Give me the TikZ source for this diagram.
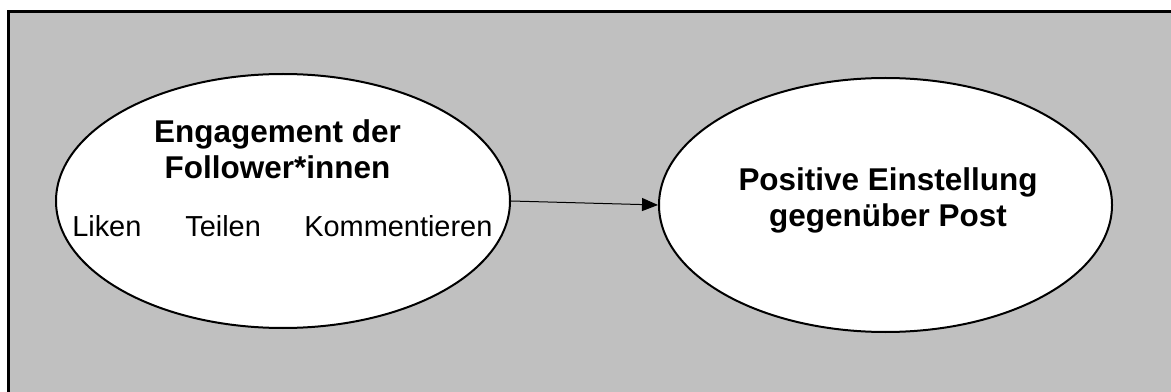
\documentclass[tikz,border=0pt]{standalone}
\usepackage{fontspec}
\setmainfont{Liberation Sans}
\usetikzlibrary{arrows.meta,shapes.geometric}
\begin{document}
\begin{tikzpicture}[x=0.75pt,y=-0.75pt,
  oval/.style={draw,line width=1.5pt,fill=white,ellipse,inner sep=0pt,minimum height=190.5pt},
  boldtxt/.style={font=\fontsize{23.6}{27}\selectfont\bfseries,inner sep=0pt,anchor=base},
  regtxt/.style={font=\fontsize{21.7}{26}\selectfont,inner sep=0pt,anchor=base west},
  conn/.style={line width=0.75pt,-{Triangle[length=12pt,width=9.75pt]}}]
\useasboundingbox (0,0) rectangle (1171,392);
\fill[white] (0,0) rectangle (1171,392);
\begin{scope}
\clip (0,0) rectangle (1171,392);
\draw[line width=2.25pt,fill={rgb,255:red,192;green,192;blue,192}] (8.5,12) rectangle (1190,410);
\end{scope}
\node[oval,minimum width=340.5pt] (e1) at (283,201) {};
\node[oval,minimum width=339.75pt] (e2) at (885.5,205) {};
\node[boldtxt] (t1) at (277.5,143) {Engagement der};
\node[boldtxt] (t2) at (277.5,179) {Follower*innen};
\node[regtxt] (w1) at (72,237) {Liken};
\node[regtxt] (w2) at (185,237) {Teilen};
\node[regtxt] (w3) at (304,237) {Kommentieren};
\node[boldtxt] (t3) at (888,191) {Positive Einstellung};
\node[boldtxt] (t4) at (888,227) {gegenüber Post};
\draw[conn] (e1.east) -- (e2.west);
\end{tikzpicture}
\end{document}
